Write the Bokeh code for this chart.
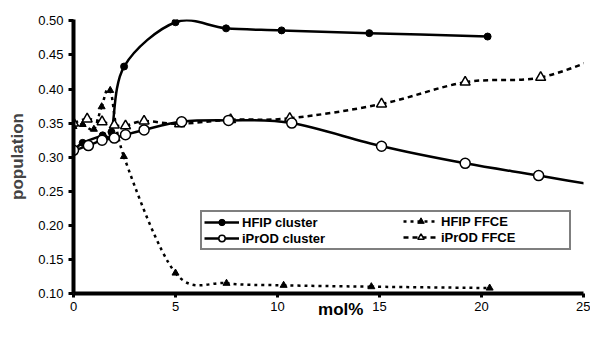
from bokeh.plotting import figure
from bokeh.models import (Range1d, FixedTicker, NumeralTickFormatter, Legend,
                          LegendItem, LinearAxis)
from bokeh.embed import file_html
from bokeh.resources import INLINE

# ---- data ----
x_ticks = [0, 5, 10, 15, 20, 25]
y_ticks = [0.10, 0.15, 0.20, 0.25, 0.30, 0.35, 0.40, 0.45, 0.50]
x_title_pos = [13.1]

hfip_cluster_x = [0, 0.45, 1.43, 1.86, 2.48, 5.0, 7.48, 10.2, 14.5, 20.3]
hfip_cluster_y = [0.310, 0.321, 0.332, 0.337, 0.433, 0.498, 0.489, 0.486, 0.482, 0.477]

iprod_cluster_x = [0, 0.73, 1.4, 2.0, 2.55, 3.46, 5.3, 7.6, 10.7, 15.1, 19.2, 22.8, 26.5]
iprod_cluster_y = [0.310, 0.317, 0.325, 0.328, 0.333, 0.340, 0.352, 0.354, 0.350,
                   0.316, 0.291, 0.273, 0.254]

hfip_ffce_x = [0, 0.45, 1.0, 1.38, 1.8, 2.47, 5.0, 7.5, 10.3, 14.6, 20.4]
hfip_ffce_y = [0.345, 0.348, 0.341, 0.374, 0.398, 0.301, 0.130, 0.115, 0.112, 0.110, 0.108]

iprod_ffce_x = [0, 0.67, 1.4, 2.0, 2.55, 3.46, 5.2, 7.7, 10.6, 15.1, 19.2, 22.9, 26.5]
iprod_ffce_y = [0.350, 0.356, 0.352, 0.347, 0.346, 0.353, 0.349, 0.355, 0.357,
                0.378, 0.410, 0.417, 0.455]


def smooth(xs, ys):
    """Bezier control points for a smoothed (Catmull-Rom style) line through the points."""
    n = len(xs)
    d = dict(x0=[], y0=[], x1=[], y1=[], cx0=[], cy0=[], cx1=[], cy1=[])
    for i in range(n - 1):
        xp, yp = (xs[i - 1], ys[i - 1]) if i > 0 else (xs[i], ys[i])
        xn, yn = (xs[i + 2], ys[i + 2]) if i + 2 < n else (xs[i + 1], ys[i + 1])
        d["x0"].append(xs[i]); d["y0"].append(ys[i])
        d["x1"].append(xs[i + 1]); d["y1"].append(ys[i + 1])
        d["cx0"].append(xs[i] + (xs[i + 1] - xp) / 6.0)
        d["cy0"].append(ys[i] + (ys[i + 1] - yp) / 6.0)
        d["cx1"].append(xs[i + 1] - (xn - xs[i]) / 6.0)
        d["cy1"].append(ys[i + 1] - (yn - ys[i]) / 6.0)
    return d


FONT = "Liberation Sans"

p = figure(width=590, height=321, output_backend="svg", toolbar_location=None,
           x_range=Range1d(0, 25), y_range=Range1d(0.10, 0.502),
           min_border_left=73, min_border_right=7, min_border_top=19,
           min_border_bottom=24)
p.outline_line_color = None
p.grid.visible = False
p.background_fill_color = "white"

for ax in (p.xaxis, p.yaxis):
    ax.axis_line_width = 4
    ax.axis_line_color = "black"
    ax.major_tick_line_width = 3
    ax.major_tick_line_color = "black"
    ax.major_tick_in = 0
    ax.minor_tick_line_color = None
    ax.major_label_text_font = FONT
    ax.major_label_text_font_size = "13px"
    ax.major_label_text_color = "black"

p.xaxis.ticker = FixedTicker(ticks=x_ticks)
p.xaxis.major_tick_out = 4
p.xaxis.major_label_standoff = 4

p.yaxis.ticker = FixedTicker(ticks=y_ticks)
p.yaxis.formatter = NumeralTickFormatter(format="0.00")
p.yaxis.major_tick_out = 5
p.yaxis.major_label_standoff = 5
p.yaxis.axis_label = "population"
p.yaxis.axis_label_text_font = FONT
p.yaxis.axis_label_text_font_style = "bold"
p.yaxis.axis_label_text_font_size = "17px"
p.yaxis.axis_label_standoff = 8

# x-axis title sits on the tick-label row, between 10 and 15
title_axis = LinearAxis(ticker=FixedTicker(ticks=x_title_pos),
                        major_label_overrides={x_title_pos[0]: "mol%"},
                        axis_line_color=None, major_tick_line_color=None,
                        minor_tick_line_color=None, major_tick_out=0, major_tick_in=0,
                        major_label_standoff=-14, major_label_text_font=FONT,
                        major_label_text_font_style="bold",
                        major_label_text_font_size="17px",
                        major_label_text_color="black")
p.add_layout(title_axis, "below")

# ---- lines ----
bez = dict(x0="x0", y0="y0", x1="x1", y1="y1", cx0="cx0", cy0="cy0", cx1="cx1", cy1="cy1",
           line_color="black", line_width=2.5)
l_hc = p.bezier(source=smooth(hfip_cluster_x, hfip_cluster_y), **bez)
l_ic = p.bezier(source=smooth(iprod_cluster_x, iprod_cluster_y), **bez)
l_hf = p.bezier(source=smooth(hfip_ffce_x, hfip_ffce_y), line_dash="3 4", **bez)
l_if = p.bezier(source=smooth(iprod_ffce_x, iprod_ffce_y), line_dash="5 4", **bez)

# ---- markers ----
m_hf = p.scatter(hfip_ffce_x, hfip_ffce_y, marker="triangle", size=7,
                 fill_color="black", line_color="black")
m_hc = p.scatter(hfip_cluster_x, hfip_cluster_y, marker="circle", size=7,
                 fill_color="black", line_color="black")
m_if = p.scatter(iprod_ffce_x, iprod_ffce_y, marker="triangle", size=10,
                 fill_color="white", line_color="black", line_width=1.5)
m_ic = p.scatter(iprod_cluster_x, iprod_cluster_y, marker="circle", size=10,
                 fill_color="white", line_color="black", line_width=1.5)

# ---- legend (two columns inside one box) ----
common = dict(padding=2, spacing=0, glyph_width=35, glyph_height=16, label_height=16,
              label_standoff=3, label_text_font=FONT, label_text_font_style="bold",
              label_text_font_size="13px", label_text_color="black", margin=0)
leg1 = Legend(items=[LegendItem(label="HFIP cluster", renderers=[l_hc, m_hc]),
                     LegendItem(label="iPrOD cluster", renderers=[l_ic, m_ic])],
              location=(127, 43), label_width=325, border_line_color="black",
              border_line_width=2, background_fill_color="white",
              background_fill_alpha=1.0, **common)
leg2 = Legend(items=[LegendItem(label="HFIP FFCE", renderers=[l_hf, m_hf]),
                     LegendItem(label="iPrOD FFCE", renderers=[l_if, m_if])],
              location=(330, 48), border_line_color=None, background_fill_alpha=0.0,
              **common)
p.add_layout(leg1, "center")
p.add_layout(leg2, "center")

open("out.html", "w").write(file_html(p, INLINE))
